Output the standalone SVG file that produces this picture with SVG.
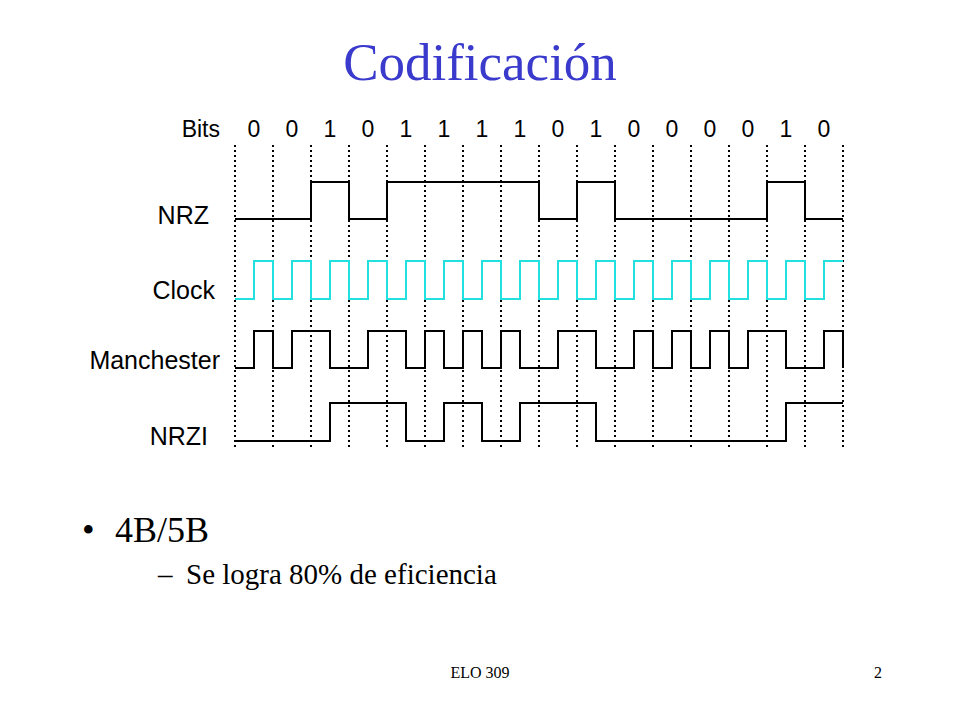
<svg xmlns="http://www.w3.org/2000/svg" width="960" height="720" viewBox="0 0 960 720">
<style>
.s{font-family:"Liberation Sans",Arial,sans-serif;font-size:23px;fill:#000}
.l{font-size:25px}
.c{text-anchor:middle}
.r{text-anchor:end}
.t{font-family:"Liberation Serif","Times New Roman",serif;fill:#000}
.g{stroke:#000;stroke-width:2;stroke-dasharray:2,3;fill:none}
.w{stroke:#000;stroke-width:2;fill:none}
.k{stroke:#22e0e0;stroke-width:2;fill:none}
</style>
<rect width="960" height="720" fill="#fff"/>
<text x="480" y="80" class="t c" style="font-size:53px;fill:#3a3acc">Codificación</text>
<g id="bits">
<text x="220" y="137" class="s r">Bits</text>
<text y="137" class="s c"><tspan x="254">0</tspan><tspan x="292">0</tspan><tspan x="330">1</tspan><tspan x="368">0</tspan><tspan x="406">1</tspan><tspan x="444">1</tspan><tspan x="482">1</tspan><tspan x="520">1</tspan><tspan x="558">0</tspan><tspan x="596">1</tspan><tspan x="634">0</tspan><tspan x="672">0</tspan><tspan x="710">0</tspan><tspan x="748">0</tspan><tspan x="786">1</tspan><tspan x="824">0</tspan></text>
</g>
<g id="grid">
<path class="g" d="M235 145V450M273 145V450M311 145V450M349 145V450M387 145V450M425 145V450M463 145V450M501 145V450M539 145V450M577 145V450M615 145V450M653 145V450M691 145V450M729 145V450M767 145V450M805 145V450M843 145V450"/>
</g>
<g id="nrz">
<text x="209" y="224" class="s l r">NRZ</text>
<path class="w" d="M235 219H311V182H349V219H387V182H539V219H577V182H615V219H767V182H805V219H843"/>
</g>
<g id="clock">
<text x="215" y="299" class="s l r">Clock</text>
<path class="k" d="M235 299H254V261H273V299H292V261H311V299H330V261H349V299H368V261H387V299H406V261H425V299H444V261H463V299H482V261H501V299H520V261H539V299H558V261H577V299H596V261H615V299H634V261H653V299H672V261H691V299H710V261H729V299H748V261H767V299H786V261H805V299H824V261H843"/>
</g>
<g id="manchester">
<text x="220" y="369" class="s l r">Manchester</text>
<path class="w" d="M235 368H254V331H273V368H292V331H330V368H368V331H406V368H425V331H444V368H463V331H482V368H501V331H520V368H558V331H596V368H634V331H653V368H672V331H691V368H710V331H729V368H748V331H786V368H824V331H843V368"/>
</g>
<g id="nrzi">
<text x="208" y="445" class="s l r">NRZI</text>
<path class="w" d="M235 441H330V403H406V441H444V403H482V441H520V403H596V441H786V403H843"/>
</g>
<g id="bullets">
<text x="82" y="542" class="t" style="font-size:36px">•</text>
<text x="115" y="542" class="t" style="font-size:36px">4B/5B</text>
<text x="158" y="584" class="t" style="font-size:29px">–</text>
<text x="186" y="584" class="t" style="font-size:29px">Se logra 80% de eficiencia</text>
</g>
<text x="480" y="678" class="t c" style="font-size:16px">ELO 309</text>
<text x="878" y="678" class="t c" style="font-size:16px">2</text>
</svg>
